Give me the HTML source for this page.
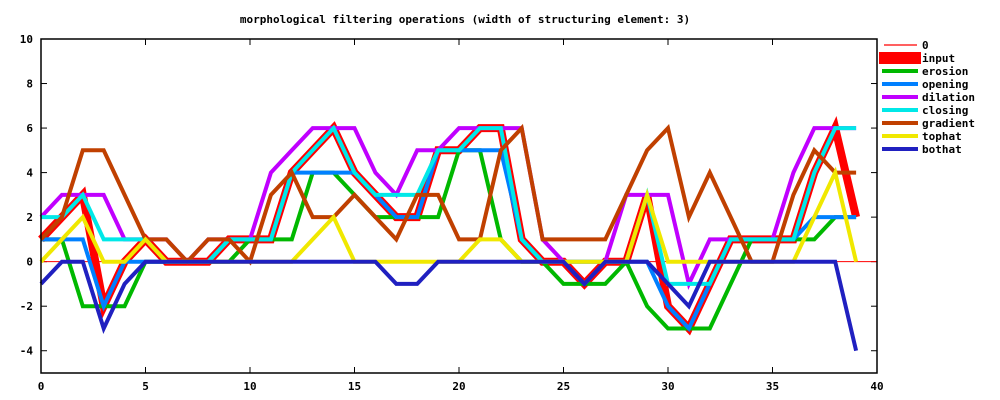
<!DOCTYPE html>
<html><head><style>body{margin:0;background:#fff}svg{display:block}text{font-family:"DejaVu Sans Mono","Liberation Mono",monospace;font-weight:bold;font-size:11px;fill:#000}</style></head>
<body><svg id="s" width="1000" height="400" xmlns="http://www.w3.org/2000/svg"></svg>
<script>
const s=document.getElementById('s');
const L=41,R=877,T=39,B=373;
const X=v=>L+(R-L)*v/40, Y=v=>T+(B-T)*(10-v)/15;
let h='<text x="465" y="23" text-anchor="middle">morphological filtering operations  (width of structuring element: 3)</text>';
const inp=[1,2,3,-2,0,1,0,0,0,1,1,1,4,5,6,4,3,2,2,5,5,6,6,1,0,0,-1,0,0,3,-2,-3,-1,1,1,1,1,4,6,2];
const n=inp.length;
const win=(a,f)=>a.map((_,i)=>f(...a.slice(Math.max(0,i-1),Math.min(n,i+2))));
const ero=win(inp,Math.min),dil=win(inp,Math.max);
const ope=win(ero,Math.max),clo=win(dil,Math.min);
const gra=dil.map((v,i)=>v-ero[i]),top_=inp.map((v,i)=>v-ope[i]),bot=inp.map((v,i)=>v-clo[i]);
const pl=(a,c,w)=>'<polyline fill="none" stroke="'+c+'" stroke-width="'+w+'" stroke-linejoin="miter" points="'+a.map((v,i)=>X(i).toFixed(1)+','+Y(v).toFixed(1)).join(' ')+'"/>';
for(let v=-4;v<=10;v+=2){const y=Y(v);h+=`<line x1="${L}" x2="${L+6}" y1="${y}" y2="${y}" stroke="#000"/><line x1="${R}" x2="${R-6}" y1="${y}" y2="${y}" stroke="#000"/><text x="33" y="${y+4}" text-anchor="end">${v}</text>`;}
for(let v=0;v<=40;v+=5){const x=X(v);h+=`<line x1="${x}" x2="${x}" y1="${B}" y2="${B-6}" stroke="#000"/><line x1="${x}" x2="${x}" y1="${T}" y2="${T+6}" stroke="#000"/><text x="${x}" y="390" text-anchor="middle">${v}</text>`;}
h+=`<line x1="${L}" x2="${R}" y1="${Y(0)}" y2="${Y(0)}" stroke="#f00" stroke-width="1"/>`;
const S=[[inp,'#f00',8],[ero,'#00b800',4],[ope,'#0080ff',4],[dil,'#c000ff',4],[clo,'#00e8e8',4],[gra,'#c04000',4],[top_,'#f0e800',4],[bot,'#2020c0',4]];
S.forEach(q=>h+=pl(...q));
h+=`<rect x="${L}" y="${T}" width="${R-L}" height="${B-T}" fill="none" stroke="#000" stroke-width="1.5"/>`;
const names=['0','input','erosion','opening','dilation','closing','gradient','tophat','bothat'];
const cols=['#f00','#f00','#00b800','#0080ff','#c000ff','#00e8e8','#c04000','#f0e800','#2020c0'];
const ws=[1.2,12,4,4,4,4,4,4,4];
names.forEach((nm,i)=>{const y=45+13*i;const x1=i==1?879:i==0?884:882;const x2=i==1?921:i==0?917:918;h+=`<line x1="${x1}" x2="${x2}" y1="${y}" y2="${y}" stroke="${cols[i]}" stroke-width="${ws[i]}"/><text x="922" y="${y+4}">${nm}</text>`;});
s.innerHTML=h;
</script></body></html>
